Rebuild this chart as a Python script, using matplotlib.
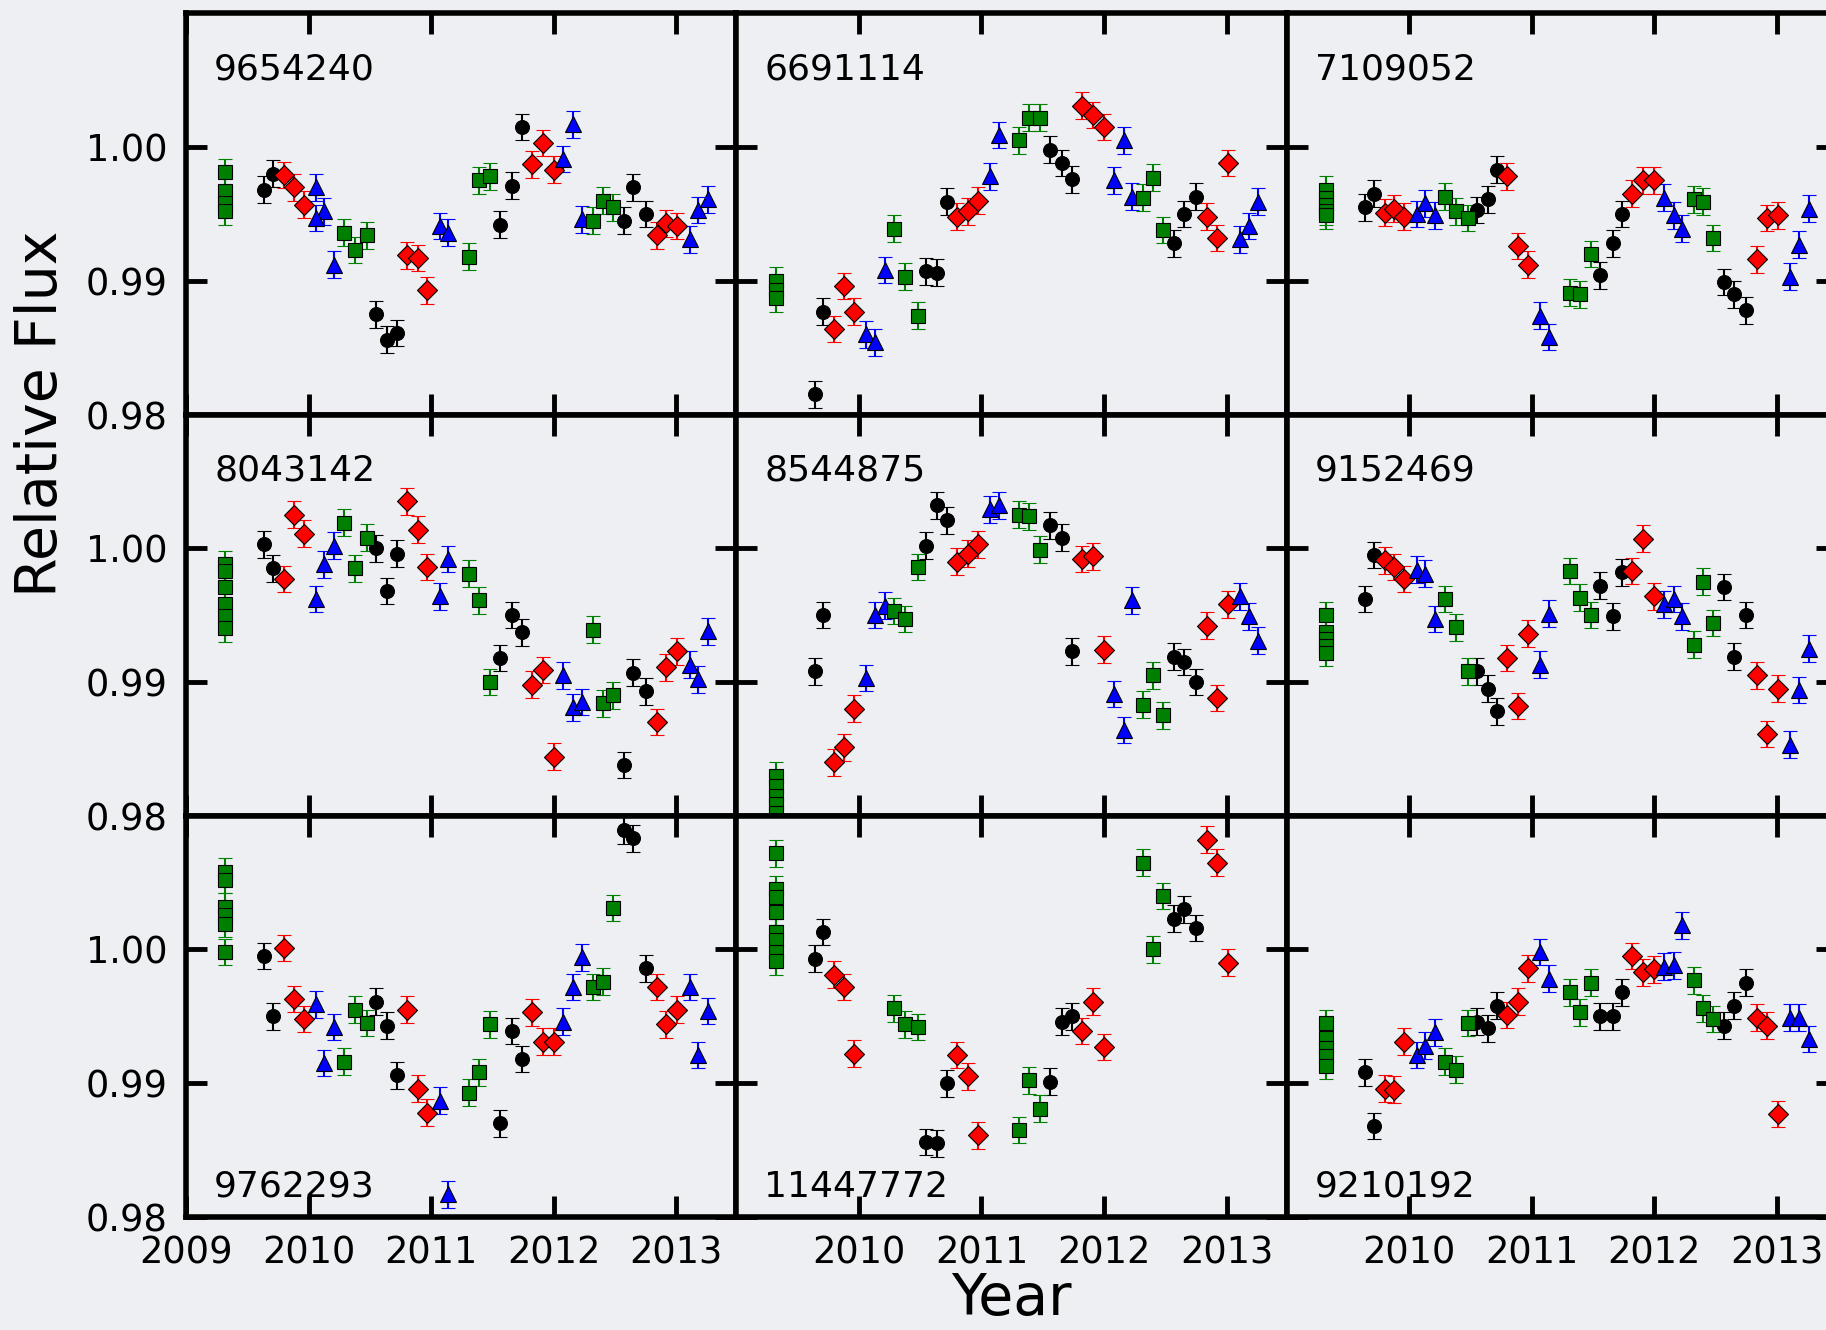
import numpy as np
import matplotlib
matplotlib.use("Agg")
import matplotlib.pyplot as plt

nan = np.nan

# Star IDs, in panel order (row by row)
kic = ['9654240', '6691114', '7109052',
       '8043142', '8544875', '9152469',
       '9762293', '11447772', '9210192']

# Times (year) of each monthly point, grouped by marker type
t_q1 = 2009.32
t_black = [2009.64, 2009.71, 2010.55, 2010.64, 2010.72, 2011.56, 2011.66, 2011.74,
           2012.57, 2012.65, 2012.75]
t_red = [2009.80, 2009.88, 2009.96, 2010.80, 2010.89, 2010.97, 2011.82, 2011.91,
         2012.00, 2012.84, 2012.92, 2013.01]
t_blue = [2010.06, 2010.13, 2010.21, 2011.07, 2011.14, 2012.08, 2012.16, 2012.23,
          2013.11, 2013.18, 2013.26]
t_green = [2010.29, 2010.38, 2010.48, 2011.31, 2011.39, 2011.48, 2012.32, 2012.40,
           2012.48]

# Relative flux per panel
q1_flux = [
    [0.9981, 0.9967, 0.9958, 0.9952],
    [0.9900, 0.9893, 0.9887],
    [0.9968, 0.9962, 0.9957, 0.9952, 0.9949],
    [0.9988, 0.9983, 0.9971, 0.9958, 0.9949, 0.9940],
    [0.9830, 0.9822, 0.9815, 0.9809, 0.9802],
    [0.9950, 0.9937, 0.9932, 0.9927, 0.9922],
    [1.0058, 1.0052, 1.0032, 1.0026, 1.0019, 0.9998],
    [1.0072, 1.0045, 1.0039, 1.0028, 1.0013, 1.0007, 0.9998, 0.9991],
    [0.9945, 0.9934, 0.9926, 0.9920, 0.9913],
]
black_flux = [
    [0.9968, 0.9980, 0.9875, 0.9856, 0.9861, 0.9942, 0.9971, 1.0015, 0.9945, 0.9970, 0.9950],
    [0.9815, 0.9877, 0.9907, 0.9906, 0.9959, 0.9998, 0.9988, 0.9976, 0.9928, 0.9950, 0.9963],
    [0.9955, 0.9965, 0.9953, 0.9961, 0.9983, 0.9904, 0.9928, 0.9950, 0.9899, 0.9890, 0.9878],
    [1.0003, 0.9985, 1.0000, 0.9968, 0.9996, 0.9918, 0.9950, 0.9937, 0.9838, 0.9907, 0.9893],
    [0.9908, 0.9950, 1.0002, 1.0032, 1.0021, 1.0017, 1.0008, 0.9923, 0.9919, 0.9915, 0.9900],
    [0.9962, 0.9995, 0.9908, 0.9895, 0.9878, 0.9972, 0.9949, 0.9982, 0.9971, 0.9919, 0.9950],
    [0.9995, 0.9950, 0.9961, 0.9943, 0.9906, 0.9870, 0.9939, 0.9918, 1.0089, 1.0083, 0.9986],
    [0.9993, 1.0013, 0.9856, 0.9855, 0.9900, 0.9901, 0.9946, 0.9950, 1.0023, 1.0030, 1.0016],
    [0.9908, 0.9868, 0.9946, 0.9941, 0.9958, 0.9950, 0.9950, 0.9968, 0.9943, 0.9958, 0.9975],
]
red_flux = [
    [0.9979, 0.9970, 0.9957, 0.9919, 0.9917, 0.9893, 0.9987, 1.0003, 0.9983, 0.9934, 0.9943, 0.9941],
    [0.9864, 0.9896, 0.9877, 0.9948, 0.9952, 0.9960, 1.0031, 1.0024, 1.0015, 0.9948, 0.9932, 0.9988],
    [0.9951, 0.9954, 0.9948, 0.9978, 0.9926, 0.9912, 0.9965, 0.9975, 0.9975, 0.9916, 0.9947, 0.9949],
    [0.9977, 1.0025, 1.0011, 1.0035, 1.0014, 0.9986, 0.9898, 0.9909, 0.9844, 0.9870, 0.9911, 0.9923],
    [0.9840, 0.9851, 0.9880, 0.9990, 0.9996, 1.0003, 0.9992, 0.9994, 0.9924, 0.9942, 0.9888, 0.9958],
    [0.9991, 0.9986, 0.9977, 0.9918, 0.9882, 0.9936, 0.9983, 1.0007, 0.9964, 0.9905, 0.9861, 0.9895],
    [1.0001, 0.9963, 0.9948, 0.9955, 0.9896, 0.9878, 0.9953, 0.9931, 0.9931, 0.9972, 0.9944, 0.9955],
    [0.9981, 0.9972, 0.9922, 0.9921, 0.9905, 0.9861, 0.9939, 0.9961, 0.9927, 1.0082, 1.0065, 0.9990],
    [0.9896, 0.9895, 0.9931, 0.9951, 0.9961, 0.9986, 0.9995, 0.9983, 0.9985, 0.9949, 0.9943, 0.9877],
]
blue_flux = [
    [0.9970, 0.9952, 0.9912, 0.9941, 0.9936, 0.9991, 1.0017, 0.9946, 0.9931, 0.9953, 0.9961],
    [0.9860, 0.9854, 0.9908, 0.9978, 1.0009, 0.9975, 1.0005, 0.9963, 0.9931, 0.9941, 0.9959],
    [0.9950, 0.9958, 0.9949, 0.9874, 0.9858, 0.9962, 0.9949, 0.9939, 0.9903, 0.9927, 0.9954],
    [0.9962, 0.9988, 1.0002, 0.9964, 0.9992, 0.9905, 0.9881, 0.9885, 0.9913, 0.9902, 0.9938],
    [0.9903, 0.9950, 0.9957, 1.0029, 1.0032, 0.9891, 0.9864, 0.9961, 0.9964, 0.9949, 0.9931],
    [0.9984, 0.9981, 0.9947, 0.9913, 0.9951, 0.9958, 0.9962, 0.9949, 0.9853, 0.9894, 0.9925],
    [0.9959, 0.9915, 0.9942, 0.9887, 0.9817, 0.9946, 0.9972, 0.9994, 0.9972, 0.9921, 0.9954],
    [nan] * 11,
    [0.9921, 0.9928, 0.9938, 0.9998, 0.9978, 0.9987, 0.9988, 1.0018, 0.9949, 0.9949, 0.9933],
]
green_flux = [
    [0.9936, 0.9923, 0.9934, 0.9918, 0.9975, 0.9978, 0.9945, 0.9960, 0.9955],
    [0.9939, 0.9903, 0.9874, 1.0005, 1.0022, 1.0022, 0.9962, 0.9977, 0.9938],
    [0.9963, 0.9952, 0.9947, 0.9891, 0.9890, 0.9920, 0.9961, 0.9959, 0.9932],
    [1.0019, 0.9985, 1.0008, 0.9981, 0.9961, 0.9900, 0.9939, 0.9884, 0.9890],
    [0.9953, 0.9947, 0.9986, 1.0025, 1.0024, 0.9999, 0.9883, 0.9905, 0.9875],
    [0.9962, 0.9941, 0.9908, 0.9983, 0.9963, 0.9950, 0.9928, 0.9975, 0.9944],
    [0.9916, 0.9955, 0.9945, 0.9893, 0.9908, 0.9944, 0.9972, 0.9976, 1.0031],
    [0.9956, 0.9944, 0.9942, 0.9865, 0.9902, 0.9881, 1.0065, 1.0000, 1.0040],
    [0.9916, 0.9910, 0.9945, 0.9968, 0.9953, 0.9975, 0.9977, 0.9956, 0.9948],
]
# one extra blue point in the first panel
extra_blue_t = [2010.06]
extra_blue_f = [0.9947]

flux_err = 0.001

BG = '#edeff2'
W, H = 1826, 1330
fig = plt.figure(figsize=(W / 100, H / 100), dpi=100, facecolor=BG)

x0, y_top = 186, 13.3
cw, rh = 550.3, 401.2

style = dict(linestyle='none', mec='k', mew=0.8, elinewidth=1.5,
             capsize=5, capthick=1.5)


def eb(ax, t, f, fmt, c, ms=10):
    ax.errorbar(t, f, yerr=flux_err, fmt=fmt, color=c, mfc=c, ecolor=c, ms=ms, **style)


for i in range(9):
    r, c = divmod(i, 3)
    ax = fig.add_axes([(x0 + c * cw) / W, 1 - (y_top + (r + 1) * rh) / H, cw / W, rh / H])
    ax.set_facecolor(BG)

    eb(ax, [t_q1] * len(q1_flux[i]), q1_flux[i], 's', 'g')
    eb(ax, t_black, black_flux[i], 'o', 'k')
    eb(ax, t_red, red_flux[i], 'D', 'r', ms=10.5)
    eb(ax, t_blue, blue_flux[i], '^', 'b', ms=12)
    if i == 0:
        eb(ax, extra_blue_t, extra_blue_f, '^', 'b', ms=12)
    eb(ax, t_green, green_flux[i], 's', 'g')

    ax.set_xlim(2009.0, 2013.49)
    ax.set_ylim(0.98, 1.01)
    ax.set_yticks([0.98, 0.99, 1.00])
    if c == 0:
        ax.set_xticks([2009, 2010, 2011, 2012, 2013])
        ax.set_yticklabels(['0.98', '0.99', '1.00'])
    else:
        ax.set_xticks([2010, 2011, 2012, 2013])
    ax.tick_params(direction='in', top=True, right=True, length=15, width=3.5,
                   labelsize=26.5, pad=13)
    if r < 2:
        ax.tick_params(labelbottom=False)
    if c > 0:
        ax.tick_params(labelleft=False)
    for s in ax.spines.values():
        s.set_linewidth(4)

    ty = 0.836 if r < 2 else 0.05
    ax.text(0.051, ty, kic[i], transform=ax.transAxes, fontsize=26,
            ha='left', va='baseline')

fig.text(42 / W, 1 - 414 / H, 'Relative Flux', rotation=90, fontsize=41,
         ha='center', va='center')
fig.text(1011 / W, 0.002, 'Year', fontsize=41, ha='center', va='bottom')

fig.savefig('out.png', dpi=100, facecolor=BG)
